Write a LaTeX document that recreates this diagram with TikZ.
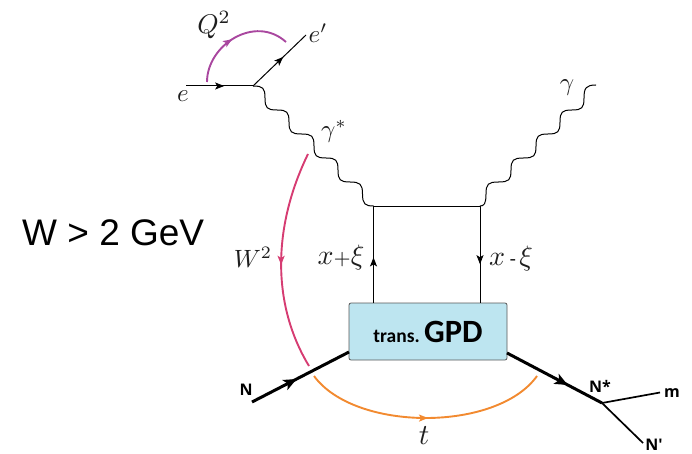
\documentclass[tikz,border=0pt]{standalone}
\usepackage[no-math]{fontspec}
\setmainfont{Liberation Sans}
\newfontfamily\carl{Carlito}
\newfontfamily\opens{Open Sans}
\usetikzlibrary{arrows.meta,decorations.markings,calc}
\definecolor{gpdfill}{HTML}{BDE5F0}
\definecolor{qcol}{HTML}{A9479F}
\definecolor{wcol}{HTML}{D63C72}
\definecolor{tcol}{HTML}{F28A30}
\definecolor{inkc}{HTML}{1E1E1E}
\tikzset{
  midtip/.style={postaction={decorate,decoration={markings,mark=at position #1 with {\arrow{Stealth[length=9pt,width=7pt,inset=2pt]}}}}},
  bigtip/.style={postaction={decorate,decoration={markings,mark=at position #1 with {\arrow{Stealth[length=13pt,width=11pt,inset=3pt]}}}}},
  thinline/.style={line width=1pt,black},
  nucleon/.style={line width=3pt,black,line cap=butt},
  decay/.style={line width=1.7pt,black},
  photon/.style={line width=1pt,black,line join=round},
  kinq/.style={line width=1.9pt,qcol},
  kinw/.style={line width=1.9pt,wcol},
  kint/.style={line width=1.9pt,tcol},
  mathlabel/.style={inner sep=0pt,text=inkc,scale=#1},
  mathlabel/.default=2.5,
  boldlabel/.style={inner sep=0pt,font=\opens\bfseries\fontsize{16}{18}\selectfont},
}
\begin{document}
\begin{tikzpicture}[x=1pt,y=-1pt]
\useasboundingbox (0,0) rectangle (692,454);
% nodes
\node[draw=black!65,line width=.8pt,fill=gpdfill,rounded corners=2pt,minimum width=158pt,minimum height=57pt,inner sep=0pt,font=\carl\bfseries] (gpd) at (428,331.5)
  {\fontsize{19.5}{22}\selectfont trans.\ \fontsize{32.5}{34}\selectfont GPD};
\coordinate (ein) at (186,86);
\coordinate (evtx) at (253,86);
\coordinate (eout) at (306,35);
\coordinate (bl) at (373.5,206);
\coordinate (br) at (480,206);
\coordinate (gend) at (596,85);
\coordinate (bbl) at (373.5,303);
\coordinate (bbr) at (480,303);
\coordinate (nin) at (252,402);
\coordinate (nl) at (349,352);
\coordinate (nr) at (507,353);
\coordinate (nstar) at (602,403);
\coordinate (mend) at (660,392.5);
\coordinate (npend) at (643,443);
\coordinate (qa) at (207,82);
\coordinate (qb) at (286,42);
\coordinate (wa) at (308,154);
\coordinate (wb) at (309,366);
\coordinate (ta) at (314,376);
\coordinate (tb) at (537,376);
% fermion lines
\draw[thinline,midtip=0.57] (ein) -- (evtx);
\draw[thinline,midtip=0.57] (evtx) -- (eout);
\draw[thinline] (bl) -- (br);
\draw[thinline,midtip=0.47] (bbl) -- (bl);
\draw[thinline,midtip=0.6] (br) -- (bbr);
% virtual photon
\draw[photon] (evtx)
  .. controls (263,86) and (265,88) .. (265,98)
  .. controls (265,108) and (267,110) .. (277,110)
  .. controls (287,110) and (289,112) .. (289,122)
  .. controls (289,132) and (291,134) .. (301.5,134)
  .. controls (312,134) and (314,136) .. (314,146)
  .. controls (314,156) and (316,158) .. (326,158)
  .. controls (336,158) and (338,160) .. (338,170)
  .. controls (338,180) and (340,182) .. (350,182)
  .. controls (360,182) and (362.5,184) .. (362.5,194)
  .. controls (362.5,204) and (365,206) .. (bl);
% real photon
\draw[photon] (br)
  .. controls (484,206) and (486,204) .. (486,194)
  .. controls (486,184) and (488,182) .. (498.5,182)
  .. controls (509,182) and (511,180) .. (511,170)
  .. controls (511,160) and (513,158) .. (523.5,158)
  .. controls (534,158) and (536,156) .. (536,146)
  .. controls (536,136) and (538,134) .. (548,134)
  .. controls (558,134) and (560,132) .. (560,122)
  .. controls (560,112) and (562,110) .. (572,110)
  .. controls (582,110) and (584,108) .. (584,98)
  .. controls (584,88) and (586,85) .. (gend);
% nucleons
\draw[nucleon,bigtip=0.46] (nin) -- (nl);
\draw[nucleon,bigtip=0.64] (nr) -- (nstar);
\draw[decay] (nstar) -- (mend);
\draw[decay] (nstar) -- (npend);
% kinematic arcs
\draw[kinq,midtip=0.47] (qa) .. controls (207,45) and (255,14) .. (qb);
\draw[kinw,midtip=0.52] (wa) .. controls (272,228) and (272,305) .. (wb);
\draw[kint,midtip=0.51] (ta) .. controls (355,432) and (497,432) .. (tb);
% labels
\node[mathlabel] (le) at (183,96) {$e$};
\node[mathlabel] (lep) at (318,33) {$e'$};
\node[mathlabel=2.7] (lq) at (214,25) {$Q^2$};
\node[mathlabel] (lgs) at (334,131) {$\gamma^*$};
\node[mathlabel] (lg) at (567,88) {$\gamma$};
\node[mathlabel] (lw) at (253,257) {$W^2$};
\node[mathlabel=2.8] (lxp) at (341,257) {$x{\scriptstyle+}\xi$};
\node[mathlabel=2.8] (lxm) at (511,258) {$x\mbox{\,\scriptsize -\,}\xi$};
\node[mathlabel=2.9] (lt) at (424,436) {$t$};
\node[boldlabel] (ln) at (246,390) {N};
\node[boldlabel] (lns) at (600,386) {N*};
\node[boldlabel] (lm) at (672,393) {m};
\node[boldlabel] (lnp) at (654,445) {N'};
\node[inner sep=0pt,anchor=west,font=\fontsize{37}{40}\selectfont,text=black] (lw2) at (22,233) {W > 2 GeV};
\end{tikzpicture}
\end{document}
